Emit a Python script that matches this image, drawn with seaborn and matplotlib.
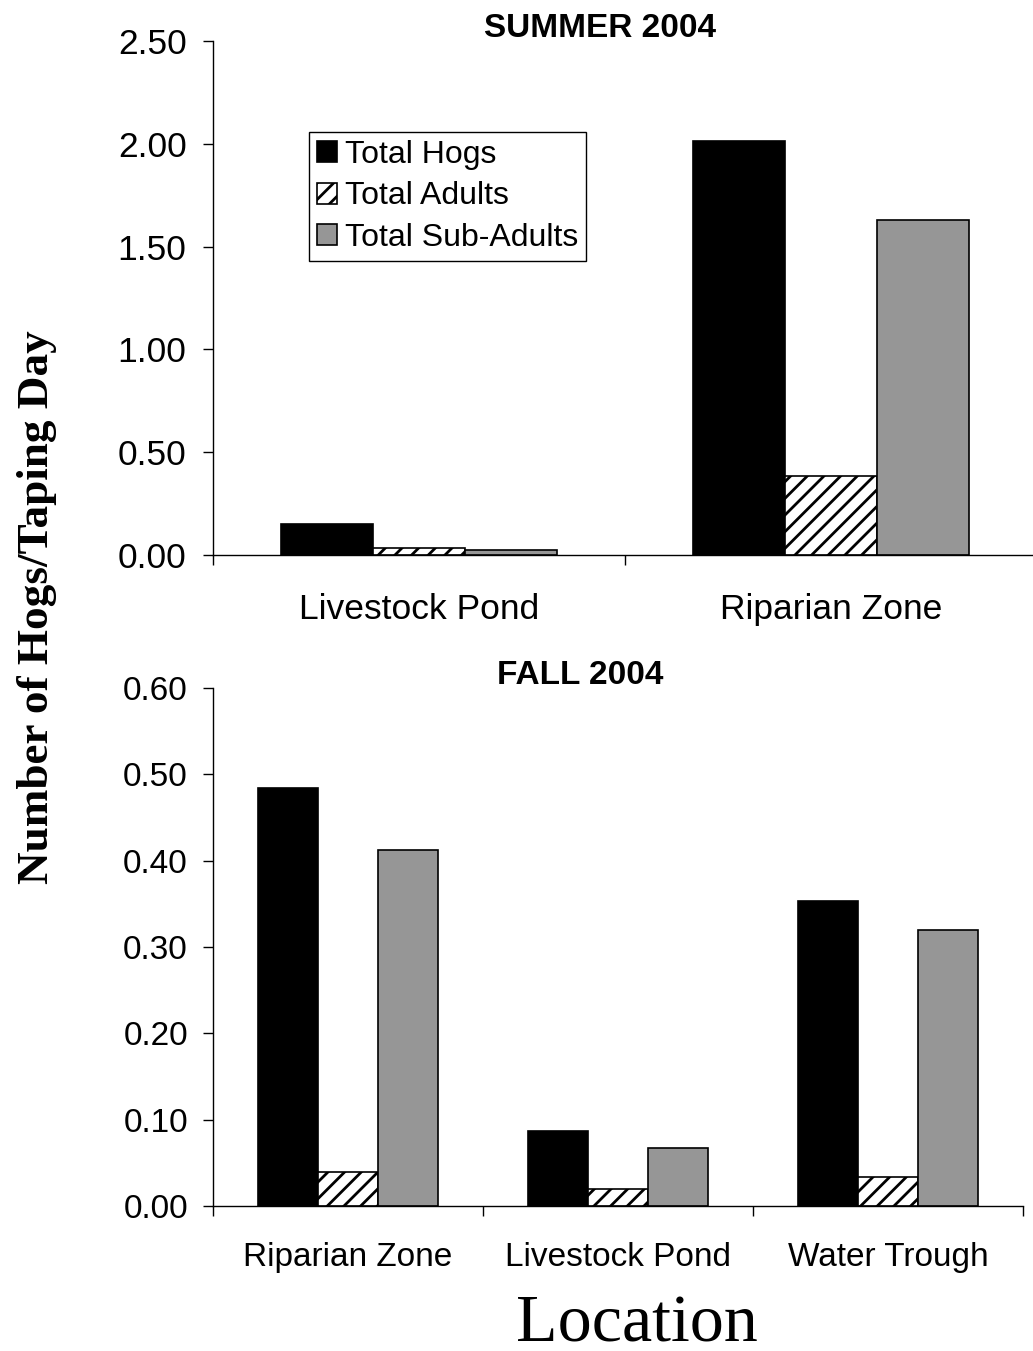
import numpy as np
import pandas as pd
import matplotlib
matplotlib.use("Agg")
import matplotlib.pyplot as plt
import seaborn as sns
from matplotlib.ticker import FormatStrFormatter

# ---------------- data ----------------
series_names = ["Total Hogs", "Total Adults", "Total Sub-Adults"]
series_colors = ["#000000", "#ffffff", "#969696"]

summer_locations = ["Livestock Pond", "Riparian Zone"]
summer_total_hogs = [0.149, 2.015]
summer_total_adults = [0.032, 0.384]
summer_total_subadults = [0.026, 1.629]
summer_yticks = [0.0, 0.5, 1.0, 1.5, 2.0, 2.5]

fall_locations = ["Riparian Zone", "Livestock Pond", "Water Trough"]
fall_total_hogs = [0.484, 0.087, 0.353]
fall_total_adults = [0.039, 0.020, 0.034]
fall_total_subadults = [0.412, 0.067, 0.320]
fall_yticks = [0.0, 0.1, 0.2, 0.3, 0.4, 0.5, 0.6]

# ---------------- style ----------------
sns.set_style("ticks")
plt.rcParams["font.family"] = ["Liberation Sans", "DejaVu Sans"]
plt.rcParams["text.color"] = "black"
plt.rcParams["hatch.linewidth"] = 2.0
plt.rcParams["hatch.color"] = "black"
plt.rcParams["axes.linewidth"] = 1.0
plt.rcParams["axes.edgecolor"] = "black"
plt.rcParams["xtick.color"] = "black"
plt.rcParams["ytick.color"] = "black"
plt.rcParams["xtick.labelcolor"] = "black"
plt.rcParams["ytick.labelcolor"] = "black"

W, H = 1033, 1351
fig = plt.figure(figsize=(W / 100, H / 100), dpi=100)
ax1 = fig.add_axes([213 / W, 1 - 555 / H, 824 / W, 514 / H])
ax2 = fig.add_axes([213 / W, 1 - 1206 / H, 810 / W, 518 / H])


def draw(ax, locations, series, yticks, hatch, fs, xpad, ypad):
    rows = []
    for name, vals in zip(series_names, series):
        for loc, v in zip(locations, vals):
            rows.append({"Location": loc, "Series": name, "Value": v})
    df = pd.DataFrame(rows)
    sns.barplot(data=df, x="Location", y="Value", hue="Series",
                order=locations, hue_order=series_names,
                palette=series_colors, width=0.67, gap=0,
                edgecolor="black", linewidth=1.2, errorbar=None,
                legend=False, ax=ax, saturation=1)
    for p in ax.containers[1]:
        p.set_hatch(hatch)
    n = len(locations)
    ax.set_xlim(-0.5, n - 0.5)
    ax.set_ylim(0, yticks[-1])
    ax.set_yticks(yticks)
    ax.yaxis.set_major_formatter(FormatStrFormatter("%.2f"))
    ax.set_xticks(np.arange(n + 1) - 0.5)
    ax.set_xticklabels([""] * (n + 1))
    ax.set_xticks(np.arange(n), minor=True)
    ax.set_xticklabels(locations, minor=True)
    ax.tick_params(axis="x", which="minor", length=0, pad=xpad,
                   labelsize=fs, labelcolor="black")
    ax.tick_params(axis="x", which="major", length=7, width=1, direction="out")
    ax.tick_params(axis="y", length=7, width=1, pad=ypad, labelsize=fs,
                   direction="out", labelcolor="black")
    ax.set_xlabel("")
    ax.set_ylabel("")
    sns.despine(ax=ax, top=True, right=True)


draw(ax1, summer_locations,
     [summer_total_hogs, summer_total_adults, summer_total_subadults],
     summer_yticks, "//", 25.5, 27, 12)
draw(ax2, fall_locations,
     [fall_total_hogs, fall_total_adults, fall_total_subadults],
     fall_yticks, "//", 24, 26, 11)

handles = [c.patches[0] for c in ax1.containers]
leg = ax1.legend(handles, series_names, loc="upper left",
                 bbox_to_anchor=(96 / 824, (555 - 132) / 514),
                 borderaxespad=0, fontsize=23, frameon=True, fancybox=False,
                 edgecolor="black", handlelength=0.62, handleheight=0.62,
                 handletextpad=0.25, labelspacing=0.36, borderpad=0.25)
leg.get_frame().set_linewidth(1.0)
leg.get_frame().set_alpha(1)
for t in leg.get_texts():
    t.set_color("black")

fig.text(600 / W, 1 - 37 / H, "SUMMER 2004", ha="center", va="baseline",
         fontsize=24, fontweight="bold", color="black")
fig.text(580 / W, 1 - 684 / H, "FALL 2004", ha="center", va="baseline",
         fontsize=24, fontweight="bold", color="black")
fig.text(37 / W, 1 - 607 / H, "Number of Hogs/Taping Day", rotation=90,
         ha="center", va="center", fontsize=32.5, fontweight="bold",
         color="black", family=["Liberation Serif", "DejaVu Serif"])
fig.text(637 / W, 1 - 1342 / H, "Location", ha="center", va="baseline",
         fontsize=49, color="black",
         family=["Liberation Serif", "DejaVu Serif"])

fig.savefig("out.png", dpi=100, facecolor="white")
